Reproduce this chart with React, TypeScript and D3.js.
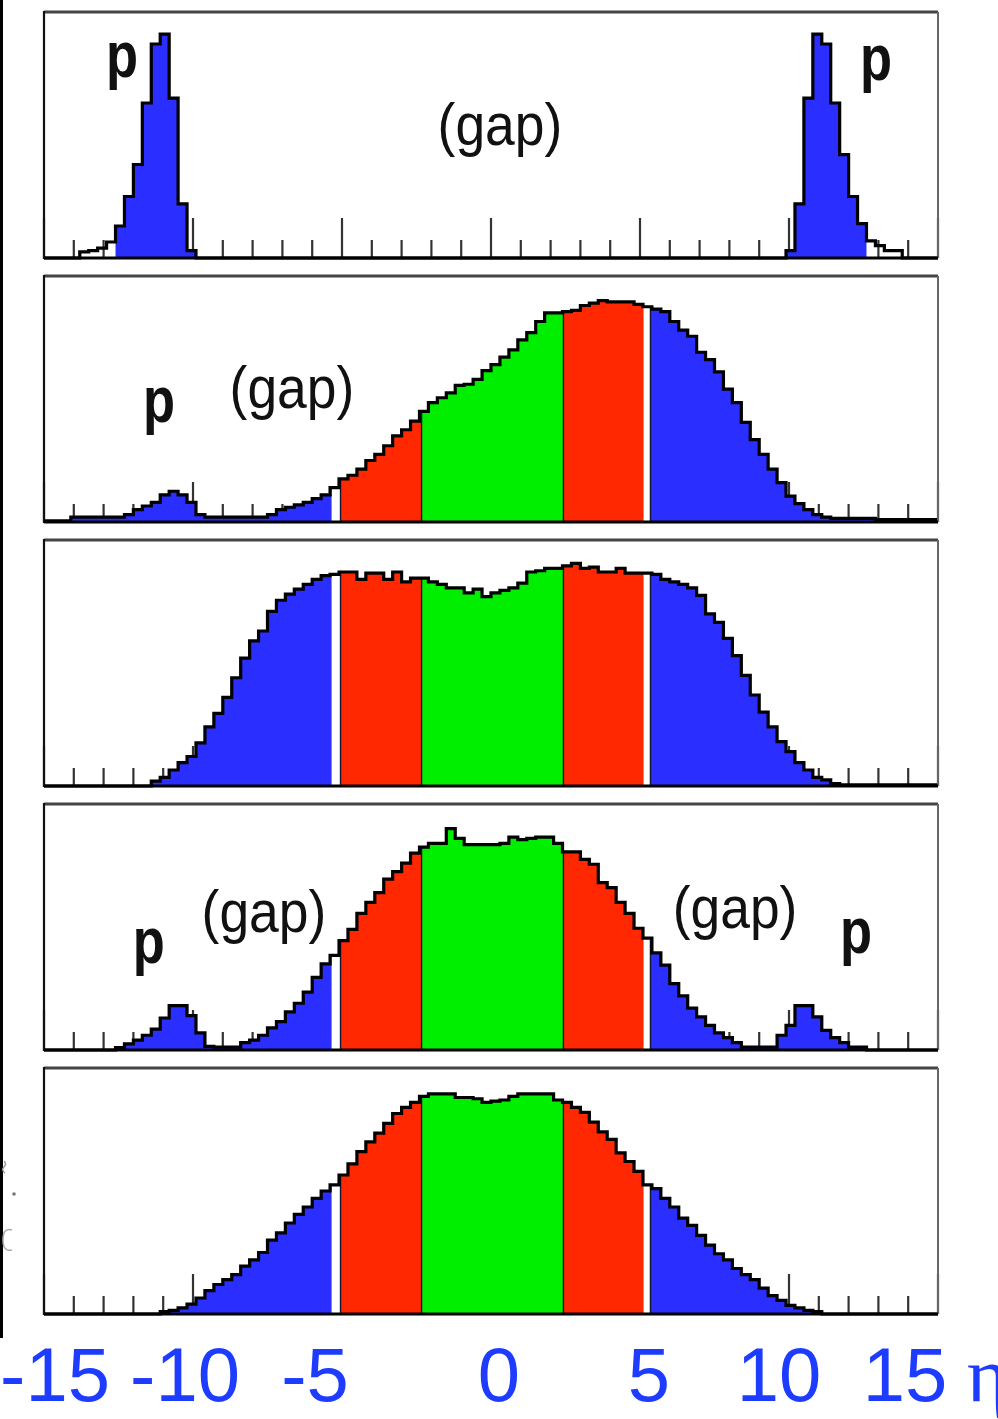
import React from "react";
import * as d3 from "d3";

// ---- data -------------------------------------------------------------
const ETA_MIN = -15;
const ETA_MAX = 15;
const BIN_WIDTH = 0.3; // 100 bins across [-15, 15]
const TICK_VALUES = d3.range(-15, 16, 1);
const TICK_LABELS = [-15, -10, -5, 0, 5, 10, 15];
const AXIS_TITLE = "η";

// relative counts (percent of panel height), one value per bin
const panel1 = [
  0, 0, 0, 0, 2.5, 3, 4, 6.5, 13, 25,
  38, 63, 87, 91, 65, 22, 3, 0, 0, 0,
  0, 0, 0, 0, 0, 0, 0, 0, 0, 0,
  0, 0, 0, 0, 0, 0, 0, 0, 0, 0,
  0, 0, 0, 0, 0, 0, 0, 0, 0, 0,
  0, 0, 0, 0, 0, 0, 0, 0, 0, 0,
  0, 0, 0, 0, 0, 0, 0, 0, 0, 0,
  0, 0, 0, 0, 0, 0, 0, 0, 0, 0,
  0, 0, 0, 3, 22, 65, 91, 87, 63, 42,
  25, 14, 7, 5, 3, 3, 0, 0, 0, 0,
];
const panel2 = [
  0.5, 0.5, 0.5, 2, 2, 2, 2, 2, 2, 3,
  5, 6.5, 8, 11, 12.5, 11, 8, 3, 2, 2,
  2, 2, 2, 2, 2, 3, 5, 6, 7, 8,
  9.5, 11, 14, 17.5, 19, 21.5, 25, 27.5, 31, 35,
  37.5, 41, 45, 48.5, 50.5, 52.5, 55.5, 56, 58, 61.5,
  64, 67, 70, 74, 77, 81.5, 85, 85, 85.5, 86,
  88, 89, 90, 89.5, 89.5, 89.5, 88.5, 87.5, 86.5, 85.5,
  81.5, 78, 75.5, 69, 66, 61, 54, 48.5, 40.5, 33.5,
  27.5, 21.5, 16, 10.5, 7.5, 5, 3, 2, 1.5, 1.5,
  1.5, 1.5, 1.5, 1, 1, 1, 1, 1, 1, 1,
];
const panel3 = [
  0, 0, 0, 0, 0, 0, 0, 0, 0, 0,
  0, 0, 2, 3.5, 6.5, 9.5, 12, 17.5, 24, 29.5,
  36, 44, 52, 59, 63, 71, 75.5, 78, 80, 82,
  84, 85.5, 86, 87, 87, 84, 86.5, 86.5, 84, 87,
  83, 84.5, 84.5, 83, 82, 80.5, 80.5, 78.5, 80, 77,
  78.5, 79.5, 80.5, 82.5, 87, 87.5, 88.5, 88.5, 89.5, 90.5,
  88.5, 89, 87, 87, 88.5, 86.5, 86.5, 86.5, 86, 84,
  83, 82, 80.5, 77.5, 70, 66.5, 60, 53, 45, 37,
  30, 24, 18, 14, 9.5, 6.5, 3.5, 2.5, 1, 0.5,
  0.5, 0.5, 0.5, 0.5, 0.5, 0.5, 0.5, 0.5, 0.5, 0.5,
];
const panel4 = [
  0, 0, 0, 0, 0, 0, 0, 0, 1, 2.5,
  4, 6, 8.5, 13, 18, 18, 14, 7, 1.5, 1.2,
  1.2, 1.2, 3, 4, 6, 9, 11.5, 15.5, 19, 23.5,
  29.5, 35, 38.5, 44.5, 49, 55.5, 60, 64, 69.5, 72.5,
  76, 80, 82.5, 84, 84, 90, 86, 83.5, 83.5, 83.5,
  83.5, 84, 86.5, 85.5, 86, 86.5, 86.5, 84, 80.5, 80.5,
  77.5, 75.5, 68, 66, 60, 55.5, 49.5, 45.5, 39.5, 34.5,
  27, 22, 17, 13.5, 10, 7, 5, 3, 1.2, 1.2,
  1.2, 1.2, 6, 10, 18, 18, 13.5, 8, 5, 3,
  1.2, 1.2, 0, 0, 0, 0, 0, 0, 0, 0,
];
const panel5 = [
  0, 0, 0, 0, 0, 0, 0, 0, 0, 0,
  0, 0, 0, 1, 1.5, 2.5, 4, 6.5, 9.5, 12,
  14, 16, 19.5, 22, 25, 30, 33, 37, 40.5, 43.5,
  47, 50, 52.5, 56.5, 61, 66, 70, 73.5, 77.5, 81.5,
  84, 86, 88.5, 89.5, 89.5, 89.5, 88, 88, 87.5, 86,
  86.5, 87, 88.5, 89.5, 89.5, 89.5, 89.5, 87, 86, 84,
  82, 78, 74, 71, 65.5, 62, 58, 52.5, 51, 47,
  43.5, 39, 36, 32, 28, 24.5, 22, 18.5, 16, 14,
  10.5, 7.5, 5.5, 3.5, 2.5, 1.5, 1, 0, 0, 0,
  0, 0, 0, 0, 0, 0, 0, 0, 0, 0,
];

// detector acceptance regions in eta
const BLUE = "#2a2eff";
const RED = "#ff2800";
const GREEN = "#00ee00";
const fullRegions = [
  { lo: -15, hi: -5.35, color: BLUE },
  { lo: -5.05, hi: -2.33, color: RED },
  { lo: -2.33, hi: 2.43, color: GREEN },
  { lo: 2.43, hi: 5.12, color: RED },
  { lo: 5.35, hi: 15, color: BLUE },
];
const protonRegions = [
  { lo: -12.6, hi: -9.9, color: BLUE },
  { lo: 9.9, hi: 12.6, color: BLUE },
];
const fullEdges = [-5.05, -2.33, 2.43, 5.35];

type Note = { text: string; eta: number; v: number; bold?: boolean };
const notes1: Note[] = [
  { text: "p", eta: -12.38, v: 73.5, bold: true },
  { text: "p", eta: 12.92, v: 72.5, bold: true },
  { text: "(gap)", eta: 0.3, v: 46 },
];
const notes2: Note[] = [
  { text: "p", eta: -11.14, v: 40.7, bold: true },
  { text: "(gap)", eta: -6.68, v: 46.3 },
];
const notes4: Note[] = [
  { text: "p", eta: -11.48, v: 35.4, bold: true },
  { text: "(gap)", eta: -7.62, v: 48 },
  { text: "(gap)", eta: 8.19, v: 49.6 },
  { text: "p", eta: 12.25, v: 39.4, bold: true },
];

const panels = [
  { values: panel1, regions: protonRegions, edges: [] as number[], notes: notes1 },
  { values: panel2, regions: fullRegions, edges: fullEdges, notes: notes2 },
  { values: panel3, regions: fullRegions, edges: fullEdges, notes: [] as Note[] },
  { values: panel4, regions: fullRegions, edges: fullEdges, notes: notes4 },
  { values: panel5, regions: fullRegions, edges: fullEdges, notes: [] as Note[] },
];

// ---- layout -----------------------------------------------------------
const W = 998;
const H = 1419;
const X0 = 44;
const X1 = 938;
const PANEL_TOP = 12;
const PANEL_STEP = 264;
const PANEL_H = 246;
const FONT = "'Liberation Sans', Arial, Helvetica, sans-serif";

const x = d3.scaleLinear().domain([ETA_MIN, ETA_MAX]).range([X0, X1]);
// tick labels printed below the stack (hand-placed in the original figure)
const labelX = d3
  .scaleLinear()
  .domain(TICK_LABELS)
  .range([55, 185, 315, 499, 649, 779, 905]);

function Panel({ idx }: { idx: number }) {
  const p = panels[idx];
  const top = PANEL_TOP + idx * PANEL_STEP;
  const base = top + PANEL_H;
  const y = d3.scaleLinear().domain([0, 100]).range([base, top]);
  const pts: [number, number][] = p.values.map((v, i) => [ETA_MIN + i * BIN_WIDTH, v]);
  pts.push([ETA_MAX, p.values[p.values.length - 1]]);
  const area = d3
    .area<[number, number]>()
    .x((d) => x(d[0]))
    .y0(base)
    .y1((d) => y(d[1]))
    .curve(d3.curveStepAfter);
  const line = d3
    .line<[number, number]>()
    .x((d) => x(d[0]))
    .y((d) => y(d[1]))
    .curve(d3.curveStepAfter);
  const valueAt = (eta: number) => {
    const k = Math.min(p.values.length - 1, Math.max(0, Math.floor((eta - ETA_MIN) / BIN_WIDTH + 1e-9)));
    return p.values[k];
  };
  const aPath = area(pts) || "";
  return (
    <g>
      <defs>
        {p.regions.map((r, j) => (
          <clipPath id={`clip-${idx}-${j}`} key={j}>
            <rect x={x(r.lo)} y={top} width={x(r.hi) - x(r.lo)} height={PANEL_H + 2} />
          </clipPath>
        ))}
      </defs>
      <rect x={X0} y={top} width={X1 - X0} height={PANEL_H} fill="#fff" />
      {TICK_VALUES.map((t) => (
        <line
          key={t}
          x1={x(t)}
          x2={x(t)}
          y1={base}
          y2={base - (t % 5 === 0 ? 40 : 18)}
          stroke="#333"
          strokeWidth={2.2}
        />
      ))}
      {p.regions.map((r, j) => (
        <path key={j} d={aPath} fill={r.color} clipPath={`url(#clip-${idx}-${j})`} />
      ))}
      {p.edges.map((e, j) => (
        <line
          key={j}
          x1={x(e)}
          x2={x(e)}
          y1={base}
          y2={y(valueAt(e))}
          stroke="#151530"
          strokeWidth={1.4}
        />
      ))}
      <path d={line(pts) || ""} fill="none" stroke="#000" strokeWidth={3.2} strokeLinejoin="miter" />
      {/* frame */}
      <line x1={X0} x2={X1} y1={top} y2={top} stroke="#444" strokeWidth={3} />
      <line x1={X1} x2={X1} y1={top} y2={base} stroke="#666" strokeWidth={2} />
      <line x1={X0} x2={X0} y1={top - 1} y2={base + 1} stroke="#111" strokeWidth={2.2} />
      <line x1={X0} x2={X1} y1={base} y2={base} stroke="#000" strokeWidth={3} />
      {p.notes.map((n, j) => (
        <text
          key={j}
          transform={`translate(${x(n.eta)},${y(n.v)}) scale(${n.bold ? 0.82 : 0.89},1)`}
          textAnchor="middle"
          fontFamily={FONT}
          fontWeight={n.bold ? 700 : 400}
          fontSize={n.bold ? 64 : 60}
          fill="#111"
        >
          {n.text}
        </text>
      ))}
    </g>
  );
}

export default function App() {
  return (
    <svg
      width={W}
      height={H}
      viewBox={`0 0 ${W} ${H}`}
      style={{ position: "absolute", left: 0, top: 0, display: "block", background: "#fff" }}
    >
      <rect x={0} y={0} width={W} height={H} fill="#fff" />
      <rect x={0} y={0} width={3} height={1338} fill="#000" />
      {/* faint scanning residue left of the bottom panel */}
      <path d="M4,1161 q3,3 0,6 q-3,3 1,6" fill="none" stroke="#999" strokeWidth={1.5} />
      <circle cx={14} cy={1194} r={1.8} fill="#777" />
      <path d="M12,1230 q-9,-3 -9,10 q0,12 9,10" fill="none" stroke="#aaa" strokeWidth={1.5} />
      {panels.map((_, i) => (
        <Panel key={i} idx={i} />
      ))}
      {TICK_LABELS.map((t) => (
        <text
          key={t}
          x={labelX(t)}
          y={1401}
          textAnchor="middle"
          fontFamily={FONT}
          fontSize={76}
          fill="#1d3cff"
        >
          {t}
        </text>
      ))}
      <text x={967} y={1401} fontFamily="'Liberation Serif', 'DejaVu Serif', serif" fontSize={78} fill="#1d3cff">
        {AXIS_TITLE}
      </text>
    </svg>
  );
}
